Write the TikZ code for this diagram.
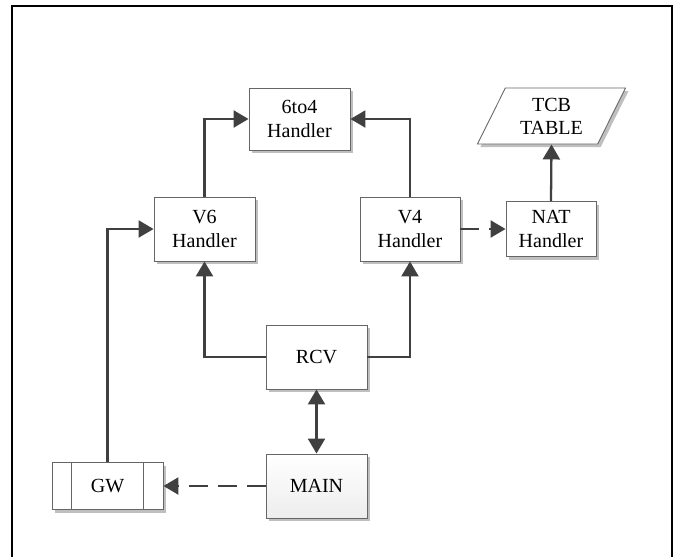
\documentclass[tikz,border=0pt]{standalone}
\usepackage{fontspec}
\setmainfont{Liberation Serif}
\usetikzlibrary{arrows.meta,positioning,shapes.geometric,shadows,calc}

\begin{document}
\begin{tikzpicture}[font=\fontsize{11.4}{13.2}\selectfont,
  box/.style={draw=black!60,line width=.5pt,fill=white,align=center,minimum width=2.02cm,minimum height=1.28cm,inner sep=1pt,drop shadow={shadow xshift=.06cm,shadow yshift=-.06cm,fill=black!25,opacity=1}},
  link/.style={draw=black!75,line width=1.3pt},
  dashlink/.style={link,dash pattern=on .38cm off .2cm},
  >={Triangle[length=.3cm,width=.34cm]}]
\useasboundingbox (0,0) rectangle (13.56,-11.14);
\draw[line width=1.1pt] (0.24,-11.3) -- (0.24,-0.12) -- (13.44,-0.12) -- (13.44,-11.3);
\node[box,minimum height=1.24cm] (sixtofour) at (5.99,-2.38) {6to4\\Handler};
\node[box,trapezium,trapezium left angle=63.4,trapezium right angle=116.6,trapezium stretches=true,minimum width=2.98cm,minimum height=1.12cm] (tcb) at (11.03,-2.32) {TCB\\TABLE};
\node[box] (v6) at (4.09,-4.58) {V6\\Handler};
\node[box,minimum width=2cm] (v4) at (8.2,-4.58) {V4\\Handler};
\node[box,minimum width=1.8cm,minimum height=1.1cm] (nat) at (11.02,-4.58) {NAT\\Handler};
\node[box] (rcv) at (6.33,-7.14) {RCV};
\node[box,top color=white,middle color=white,bottom color=black!7] (main) at (6.33,-9.72) {MAIN};
\node[box,minimum width=2.22cm,minimum height=.94cm] (gw) at (2.15,-9.72) {GW};
\draw[draw=black!60,line width=.5pt] ($(gw.north west)+(.4,0)$) -- ($(gw.south west)+(.4,0)$)
  ($(gw.north east)+(-.4,0)$) -- ($(gw.south east)+(-.4,0)$);
% links
\draw[link,->] (v6.north) |- (sixtofour.west);
\draw[link,->] (v4.north) |- (sixtofour.east);
\draw[link,->] (nat.north) -- (tcb.south);
\draw[dashlink,->] (v4.east) -- (nat.west);
\draw[link,->] (rcv.west) -| (v6.south);
\draw[link,->] (rcv.east) -| (v4.south);
\draw[link,<->] (rcv.south) -- (main.north);
\draw[dashlink,->] (main.west) -- (gw.east);
\draw[link,->] (gw.north) |- (v6.west);
\end{tikzpicture}
\end{document}
